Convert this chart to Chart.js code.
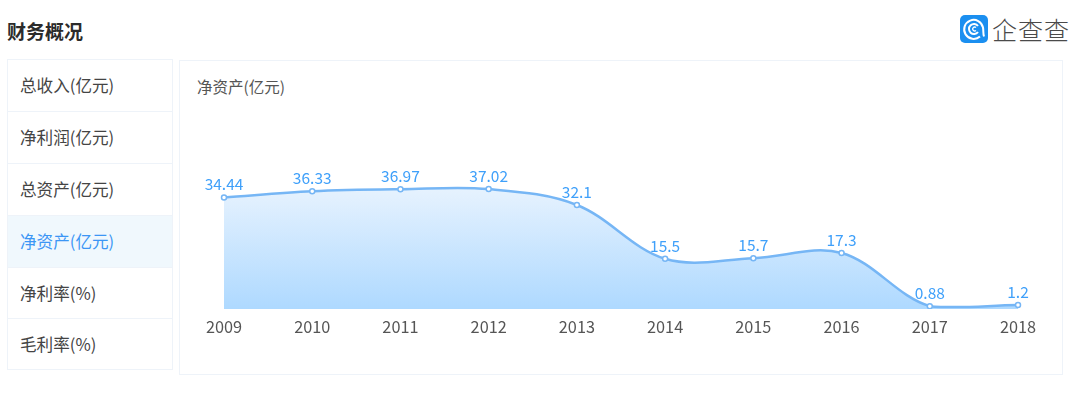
<!DOCTYPE html>
<html>
<head>
<meta charset="utf-8">
<script src="https://cdn.jsdelivr.net/npm/chart.js@4"></script>
<style>
html, body { margin: 0; padding: 0; background: #fff; }
body { width: 1080px; height: 395px; position: relative; overflow: hidden; font-family: "Noto Sans CJK SC", "Noto Sans", sans-serif; color: #444; }
.title { position: absolute; left: 7px; top: 18px; font-size: 19px; line-height: 26px; font-weight: 700; color: #2b2b2b; }
.logo { position: absolute; left: 960px; top: 15px; width: 28px; height: 28px; }
.logo-text { position: absolute; left: 992px; top: 11px; font-size: 25px; line-height: 36px; font-weight: 300; color: #4a4a4a; letter-spacing: 1px; white-space: nowrap; }
.side { position: absolute; left: 7px; top: 59px; width: 164px; border: 1px solid #eef3f9; }
.side div { height: 51px; line-height: 50px; padding-left: 12px; font-size: 16.6px; border-bottom: 1px solid #eef3f9; box-sizing: content-box; }
.side div:last-child { border-bottom: 0; height: 50px; }
.side div:nth-child(5) { height: 50px; }
.side div.on { background: #f0f8fd; color: #3c96f5; }
.panel { position: absolute; left: 179px; top: 60px; width: 882px; height: 313px; border: 1px solid #eef3f9; }
.panel span { position: absolute; left: 17px; top: 13px; font-size: 15.5px; line-height: 24px; color: #555; }
.wrap { position: absolute; left: 180px; top: 61px; width: 882px; height: 313px; }
</style>
</head>
<body>
<div class="title">财务概况</div>
<svg class="logo" viewBox="0 0 28 28">
  <rect width="28" height="28" rx="5" fill="#1b8ff0"/>
  <path d="M20 21.5 A9.5 9.5 0 1 1 23 12.5 C23.6 16 23 19 24 21.5" fill="none" stroke="#fff" stroke-width="2"/>
  <path d="M18 11 A5 5 0 1 0 18 17" fill="none" stroke="#fff" stroke-width="2"/>
  <path d="M16 12.5 A2 2 0 1 0 16 15.5" fill="none" stroke="#fff" stroke-width="1.4"/>
</svg>
<div class="logo-text">企查查</div>
<div class="side" id="side"></div>
<div class="panel"><span>净资产(亿元)</span></div>
<div class="wrap"><canvas id="myChart" width="882" height="313"></canvas></div>
<script>
var menuItems = ['总收入(亿元)', '净利润(亿元)', '总资产(亿元)', '净资产(亿元)', '净利率(%)', '毛利率(%)'];
var activeItem = '净资产(亿元)';
var years = ['2009', '2010', '2011', '2012', '2013', '2014', '2015', '2016', '2017', '2018'];
var netAssets = [34.44, 36.33, 36.97, 37.02, 32.1, 15.5, 15.7, 17.3, 0.88, 1.2];

var side = document.getElementById('side');
menuItems.forEach(function(name) {
    var row = document.createElement('div');
    row.textContent = name;
    if (name === activeItem) row.className = 'on';
    side.appendChild(row);
});

// no datalabels plugin here, so draw the values from the point positions
var valueLabels = {
    id: 'valueLabels',
    afterDatasetsDraw: function(chart) {
        var ctx = chart.ctx;
        var points = chart.getDatasetMeta(0).data;
        ctx.save();
        ctx.font = '15.5px "Noto Sans CJK SC", "Noto Sans", sans-serif';
        ctx.fillStyle = '#3fa0fa';
        ctx.textAlign = 'center';
        ctx.textBaseline = 'alphabetic';
        points.forEach(function(pt, i) {
            ctx.fillText(String(netAssets[i]), pt.x, pt.y - 7);
        });
        ctx.restore();
    }
};

var ctx = document.getElementById('myChart').getContext('2d');
new Chart(ctx, {
    type: 'line',
    data: {
        labels: years,
        datasets: [{
            data: netAssets,
            borderColor: '#76b6f5',
            borderWidth: 2.5,
            tension: 0.35,
            fill: 'origin',
            backgroundColor: function(context) {
                var chart = context.chart;
                if (!chart.chartArea) return '#cfe6fd';
                var top = chart.scales.y.getPixelForValue(37.02);
                var g = chart.ctx.createLinearGradient(0, top, 0, chart.chartArea.bottom);
                g.addColorStop(0, '#e6f2fe');
                g.addColorStop(1, '#aed9ff');
                return g;
            },
            pointRadius: 2.5,
            pointBorderWidth: 1.5,
            pointBackgroundColor: '#fff',
            pointBorderColor: '#76b6f5'
        }]
    },
    options: {
        responsive: false,
        animation: false,
        layout: { padding: { left: 44, right: 44, top: 86, bottom: 0 } },
        plugins: { legend: { display: false }, tooltip: { enabled: false } },
        scales: {
            x: {
                offset: false,
                border: { display: false },
                grid: { display: false },
                ticks: { color: '#555', padding: 0, maxRotation: 0, autoSkip: false, font: { size: 16.3, family: '"Noto Sans CJK SC", "Noto Sans", sans-serif' } },
                afterFit: function(scale) { scale.height = 65; }
            },
            y: { display: false, min: 0, max: 50 }
        }
    },
    plugins: [valueLabels]
});
</script>
</body>
</html>
